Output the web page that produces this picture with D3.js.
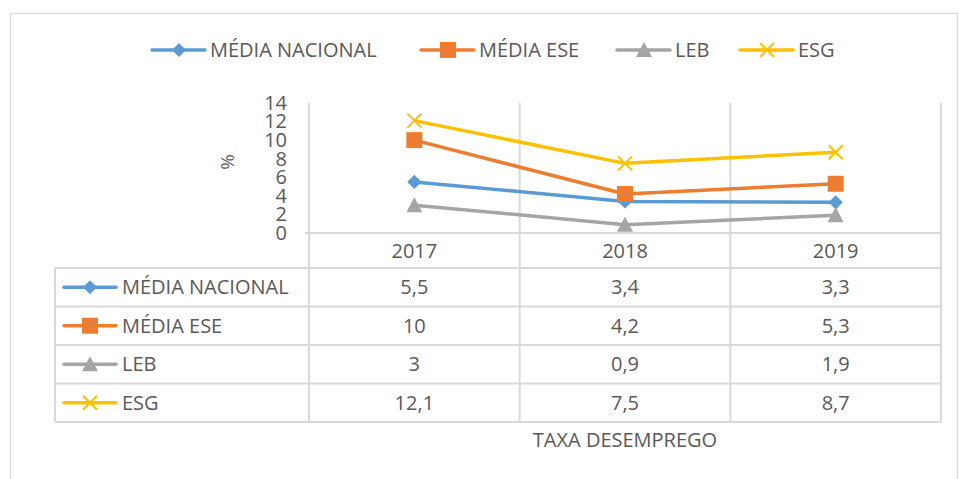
<!doctype html>
<html>
<head>
<meta charset="UTF-8">
<title>Taxa desemprego</title>
<script src="https://cdn.jsdelivr.net/npm/d3@7"></script>
<style>
  body { margin: 0; background: #fff; }
  text { font-family: "Open Sans", sans-serif; fill: #595959; }
</style>
</head>
<body>
<svg id="chart" width="959" height="479"></svg>
<script>
// data
var years = ["2017", "2018", "2019"];
var seriesNames = ["MÉDIA NACIONAL", "MÉDIA ESE", "LEB", "ESG"];
var mediaNacional = [5.5, 3.4, 3.3];
var mediaEse = [10, 4.2, 5.3];
var leb = [3, 0.9, 1.9];
var esg = [12.1, 7.5, 8.7];
var yTicks = [0, 2, 4, 6, 8, 10, 12, 14];
var colors = ["#5B9BD5", "#ED7D31", "#A5A5A5", "#FFC000"];
var symbols = ["diamond", "square", "triangle", "x"];
var xTitle = "TAXA DESEMPREGO";

var series = seriesNames.map(function(n, i){
  return {name: n, values: [mediaNacional, mediaEse, leb, esg][i], color: colors[i], sym: symbols[i]};
});

var svg = d3.select("#chart");
var grid = "#D9D9D9";
var fs = "20px";

// outer border
svg.append("rect").attr("x", 10.5).attr("y", 13.5).attr("width", 947).attr("height", 480)
  .attr("fill", "none").attr("stroke", grid).attr("stroke-width", 1.3);

var x = d3.scaleBand().domain(years).range([309, 941]).padding(0);
var y = d3.scaleLinear().domain([0, 14]).range([233, 103]);

var rowTop = 268, rowH = 38.5, tableLeft = 55;

// marker drawing
function marker(g, sym, color, cx, cy){
  if (sym === "diamond") {
    g.append("path").attr("d", d3.symbol(d3.symbolSquare, 100)())
      .attr("transform", "translate(" + cx + "," + cy + ") rotate(45)").attr("fill", color);
  } else if (sym === "square") {
    g.append("rect").attr("x", cx - 8).attr("y", cy - 8).attr("width", 16).attr("height", 16).attr("fill", color);
  } else if (sym === "triangle") {
    g.append("path").attr("d", "M" + cx + "," + (cy - 8) + "L" + (cx + 8) + "," + (cy + 7) + "L" + (cx - 8) + "," + (cy + 7) + "Z")
      .attr("fill", color);
  } else {
    g.append("path").attr("d", "M" + (cx - 7) + "," + (cy - 7) + "L" + (cx + 7) + "," + (cy + 7) + "M" + (cx + 7) + "," + (cy - 7) + "L" + (cx - 7) + "," + (cy + 7))
      .attr("stroke", color).attr("stroke-width", 2).attr("fill", "none");
  }
}

// grid / table lines
var lines = svg.append("g").attr("stroke", grid).attr("stroke-width", 2);
x.domain().forEach(function(d){
  lines.append("line").attr("x1", x(d)).attr("x2", x(d)).attr("y1", 103).attr("y2", rowTop + rowH * 4);
});
lines.append("line").attr("x1", 941).attr("x2", 941).attr("y1", 103).attr("y2", rowTop + rowH * 4);
lines.append("line").attr("x1", tableLeft).attr("x2", tableLeft).attr("y1", rowTop).attr("y2", rowTop + rowH * 4);
lines.append("line").attr("x1", 305).attr("x2", 941).attr("y1", y(0)).attr("y2", y(0));
for (var r = 0; r <= 4; r++) {
  lines.append("line").attr("x1", tableLeft).attr("x2", 941).attr("y1", rowTop + rowH * r).attr("y2", rowTop + rowH * r);
}

// y axis
var yAxis = svg.append("g").attr("transform", "translate(287,0)")
  .call(d3.axisLeft(y).tickValues(yTicks).tickSize(0).tickPadding(0));
yAxis.select(".domain").remove();
yAxis.selectAll("text").style("font-size", fs).attr("fill", "#595959").style("font-family", "'Open Sans', sans-serif");

svg.append("text").attr("transform", "translate(234,162) rotate(-90)")
  .attr("text-anchor", "middle").style("font-size", "19px").text("%");

// lines
var lineGen = d3.line().x(function(d, i){ return x(years[i]) + x.bandwidth() / 2; }).y(function(d){ return y(d); });
series.forEach(function(s){
  svg.append("path").datum(s.values).attr("d", lineGen).attr("fill", "none")
    .attr("stroke", s.color).attr("stroke-width", 3.5).attr("stroke-linejoin", "round");
});
series.forEach(function(s){
  var g = svg.append("g");
  s.values.forEach(function(v, i){ marker(g, s.sym, s.color, x(years[i]) + x.bandwidth() / 2, y(v)); });
});

// header row
years.forEach(function(d){
  svg.append("text").attr("x", x(d) + x.bandwidth() / 2).attr("y", 251).attr("dy", "0.35em")
    .attr("text-anchor", "middle").style("font-size", fs).text(d);
});

// table rows
series.forEach(function(s, r){
  var cy = rowTop + rowH * r + rowH / 2;
  var g = svg.append("g");
  g.append("line").attr("x1", 64).attr("x2", 116).attr("y1", cy).attr("y2", cy)
    .attr("stroke", s.color).attr("stroke-width", 3.5).attr("stroke-linecap", "round");
  marker(g, s.sym, s.color, 90, cy);
  g.append("text").attr("x", 122).attr("y", cy).attr("dy", "0.35em").style("font-size", fs).text(s.name);
  s.values.forEach(function(v, i){
    g.append("text").attr("x", x(years[i]) + x.bandwidth() / 2).attr("y", cy).attr("dy", "0.35em")
      .attr("text-anchor", "middle").style("font-size", fs).text(String(v).replace(".", ","));
  });
});

svg.append("text").attr("x", 625).attr("y", 440).attr("dy", "0.35em").attr("text-anchor", "middle")
  .style("font-size", fs).text(xTitle);

// legend
var legX = [152, 421, 617, 740];
series.forEach(function(s, i){
  var g = svg.append("g");
  g.append("line").attr("x1", legX[i]).attr("x2", legX[i] + 53).attr("y1", 50).attr("y2", 50)
    .attr("stroke", s.color).attr("stroke-width", 3.5).attr("stroke-linecap", "round");
  marker(g, s.sym, s.color, legX[i] + 27, 50);
  g.append("text").attr("x", legX[i] + 58).attr("y", 50).attr("dy", "0.35em").style("font-size", fs).text(s.name);
});
</script>
</body>
</html>
